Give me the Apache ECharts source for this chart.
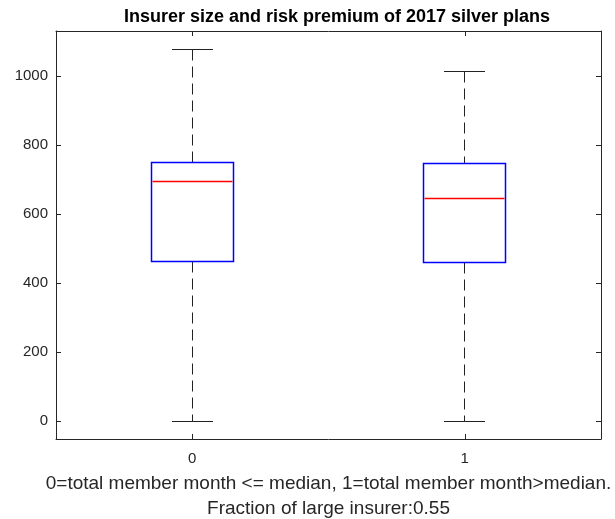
<!DOCTYPE html>
<html>
<head>
<meta charset="utf-8">
<script src="https://cdn.jsdelivr.net/npm/echarts@6/dist/echarts.min.js"></script>
<style>html,body{margin:0;padding:0;background:#fff;}#c{width:615px;height:519px;}</style>
</head>
<body>
<div id="c"></div>
<script>
const categories = ['0', '1'];
const lowerWhisker = [0, 0];
const q1 = [461, 458];
const median = [693, 646];
const q3 = [748, 745];
const upperWhisker = [1075, 1014];
const yTicks = [0, 200, 400, 600, 800, 1000];

const data = categories.map((c, i) => [i, lowerWhisker[i], q1[i], median[i], q3[i], upperWhisker[i]]);

const chart = echarts.init(document.getElementById('c'), null, {renderer: 'canvas'});
const font = 'Arial, "Liberation Sans", Helvetica, sans-serif';
const snap = v => Math.round(v - 0.5) + 0.5;
chart.setOption({
  animation: false,
  backgroundColor: '#fff',
  title: {
    text: 'Insurer size and risk premium of 2017 silver plans',
    left: 332, top: 3, textAlign: 'center',
    textStyle: {fontFamily: font, fontSize: 18, fontWeight: 'bold', color: '#000'}
  },
  grid: {left: 56, top: 31, right: 14, bottom: 80, show: false, containLabel: false, outerBoundsMode: 'none'},
  xAxis: [{
    type: 'category', data: categories, boundaryGap: true, position: 'bottom',
    axisLine: {onZero: false, lineStyle: {color: '#262626', width: 1}},
    axisTick: {show: true, inside: true, length: 5, alignWithLabel: true, lineStyle: {color: '#262626'}},
    axisLabel: {fontFamily: font, fontSize: 15, color: '#262626', margin: 12},
    splitLine: {show: false},
    name: '0=total member month <= median, 1=total member month>median.\nFraction of large insurer:0.55',
    nameLocation: 'middle', nameGap: 32,
    nameTextStyle: {fontFamily: font, fontSize: 19, color: '#262626', lineHeight: 25, verticalAlign: 'top'}
  }, {
    type: 'category', data: categories, boundaryGap: true, position: 'top',
    axisLine: {onZero: false, lineStyle: {color: '#262626', width: 1}},
    axisTick: {show: true, inside: true, length: 5, alignWithLabel: true, lineStyle: {color: '#262626'}},
    axisLabel: {show: false}
  }],
  yAxis: [{
    type: 'value', min: -52, max: 1130, position: 'left',
    axisLine: {show: true, onZero: false, lineStyle: {color: '#262626', width: 1}},
    axisTick: {show: true, inside: true, length: 5, customValues: yTicks, lineStyle: {color: '#262626'}},
    axisLabel: {fontFamily: font, fontSize: 15, color: '#262626', margin: 8, customValues: yTicks,
      formatter: v => String(v)},
    splitLine: {show: false}
  }, {
    type: 'value', min: -52, max: 1130, position: 'right',
    axisLine: {show: true, onZero: false, lineStyle: {color: '#262626', width: 1}},
    axisTick: {show: true, inside: true, length: 5, customValues: yTicks, lineStyle: {color: '#262626'}},
    axisLabel: {show: false, customValues: yTicks},
    splitLine: {show: false}
  }],
  series: [{
    type: 'custom',
    xAxisIndex: 0, yAxisIndex: 0,
    data: data,
    renderItem: function (params, api) {
      const x = api.value(0);
      const band = api.size([1, 0])[0];
      const bw = Math.round(band * 0.3), cw = Math.round(band * 0.15);
      const yLo = snap(api.coord([x, api.value(1)])[1]);
      const yQ1 = snap(api.coord([x, api.value(2)])[1]);
      const yMed = snap(api.coord([x, api.value(3)])[1]);
      const yQ3 = snap(api.coord([x, api.value(4)])[1]);
      const yHi = snap(api.coord([x, api.value(5)])[1]);
      const cx = snap(api.coord([x, api.value(3)])[0]);
      const dash = {stroke: '#222', lineWidth: 1, lineDash: [11, 6]};
      const solid = {stroke: '#222', lineWidth: 1};
      const l = cx - bw / 2, r = cx + bw / 2;
      const blue = {stroke: '#0000ff', lineWidth: 1.5};
      return {
        type: 'group',
        children: [
          {type: 'line', shape: {x1: cx, y1: yHi, x2: cx, y2: yQ3}, style: dash},
          {type: 'line', shape: {x1: cx, y1: yQ1, x2: cx, y2: yLo}, style: dash},
          {type: 'line', shape: {x1: cx - cw / 2, y1: yHi, x2: cx + cw / 2, y2: yHi}, style: solid},
          {type: 'line', shape: {x1: cx - cw / 2, y1: yLo, x2: cx + cw / 2, y2: yLo}, style: solid},
          {type: 'rect', shape: {x: l, y: yQ3, width: bw, height: yQ1 - yQ3},
            style: {fill: 'none', stroke: '#0000ff', lineWidth: 1.5}},
          {type: 'line', shape: {x1: l + 1, y1: yMed, x2: r - 1, y2: yMed},
            style: {stroke: '#ff0000', lineWidth: 1.5}}
        ]
      };
    }
  }]
});
</script>
</body>
</html>
